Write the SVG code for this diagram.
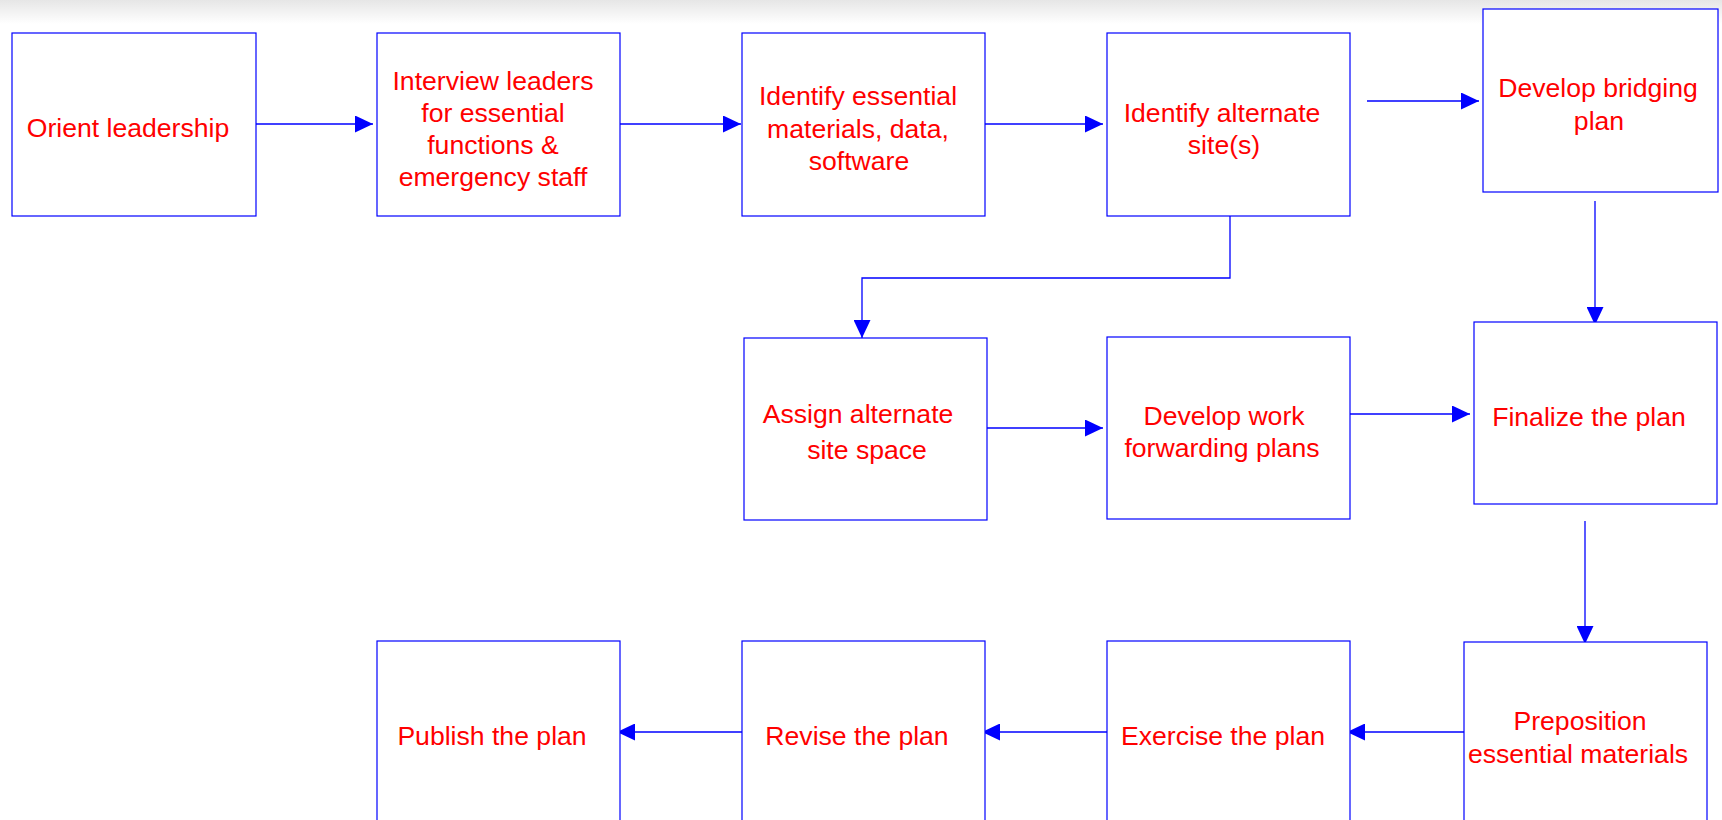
<svg xmlns="http://www.w3.org/2000/svg" width="1722" height="820" viewBox="0 0 1722 820">
<defs>
<linearGradient id="topband" x1="0" y1="0" x2="0" y2="1">
<stop offset="0" stop-color="#e6e6e6"/>
<stop offset="1" stop-color="#ffffff"/>
</linearGradient>
<marker id="ah" viewBox="0 0 18 17" refX="18" refY="8.5" markerWidth="18" markerHeight="17" markerUnits="userSpaceOnUse" orient="auto">
<path d="M0,0 L18,8.5 L0,17 Z" fill="#0000ff"/>
</marker>
<style>
.box{fill:#ffffff;stroke:#0000ff;stroke-width:1.2}
.lbl{font-family:"Liberation Sans",Arial,sans-serif;font-size:26.6px;fill:#ff0000;text-anchor:middle}
.con{fill:none;stroke:#0000ff;stroke-width:1.3;marker-end:url(#ah)}
</style>
</defs>
<rect x="0" y="0" width="1722" height="820" fill="#ffffff"/>
<rect x="0" y="0" width="1722" height="24" fill="url(#topband)"/>

<g id="connectors">
<path class="con" d="M256,124 H373"/>
<path class="con" d="M620,124 H741"/>
<path class="con" d="M985,124 H1103"/>
<path class="con" d="M1367,101 H1479"/>
<path class="con" d="M1230,216 V278 H862 V338"/>
<path class="con" d="M1595,201 V325"/>
<path class="con" d="M987,428 H1103"/>
<path class="con" d="M1350,414 H1470"/>
<path class="con" d="M1585,521 V644"/>
<path class="con" d="M1472,732 H1347"/>
<path class="con" d="M1107,732 H982"/>
<path class="con" d="M742,732 H617"/>
</g>

<g id="n1"><rect class="box" x="12" y="33" width="244" height="183"/>
<text class="lbl" x="128" y="137">Orient leadership</text></g>

<g id="n2"><rect class="box" x="377" y="33" width="243" height="183"/>
<text class="lbl" x="493" y="89.5">Interview leaders</text>
<text class="lbl" x="493" y="121.5">for essential</text>
<text class="lbl" x="493" y="153.5">functions &amp;</text>
<text class="lbl" x="493" y="185.5">emergency staff</text></g>

<g id="n3"><rect class="box" x="742" y="33" width="243" height="183"/>
<text class="lbl" x="858" y="104.5">Identify essential</text>
<text class="lbl" x="858" y="137.5">materials, data,</text>
<text class="lbl" x="859" y="170">software</text></g>

<g id="n4"><rect class="box" x="1107" y="33" width="243" height="183"/>
<text class="lbl" x="1222" y="121.5">Identify alternate</text>
<text class="lbl" x="1224" y="154">site(s)</text></g>

<g id="n5"><rect class="box" x="1483" y="9" width="235" height="183"/>
<text class="lbl" x="1598" y="96.5">Develop bridging</text>
<text class="lbl" x="1599" y="129.5">plan</text></g>

<g id="n6"><rect class="box" x="744" y="338" width="243" height="182"/>
<text class="lbl" x="858" y="423">Assign alternate</text>
<text class="lbl" x="867" y="458.5">site space</text></g>

<g id="n7"><rect class="box" x="1107" y="337" width="243" height="182"/>
<text class="lbl" x="1224" y="425">Develop work</text>
<text class="lbl" x="1222" y="457">forwarding plans</text></g>

<g id="n8"><rect class="box" x="1474" y="322" width="243" height="182"/>
<text class="lbl" x="1589" y="426">Finalize the plan</text></g>

<g id="n9"><rect class="box" x="1464" y="642" width="243" height="190"/>
<text class="lbl" x="1580" y="730">Preposition</text>
<text class="lbl" x="1578" y="763">essential materials</text></g>

<g id="n10"><rect class="box" x="1107" y="641" width="243" height="190"/>
<text class="lbl" x="1223" y="745">Exercise the plan</text></g>

<g id="n11"><rect class="box" x="742" y="641" width="243" height="190"/>
<text class="lbl" x="857" y="745">Revise the plan</text></g>

<g id="n12"><rect class="box" x="377" y="641" width="243" height="190"/>
<text class="lbl" x="492" y="745">Publish the plan</text></g>
</svg>
